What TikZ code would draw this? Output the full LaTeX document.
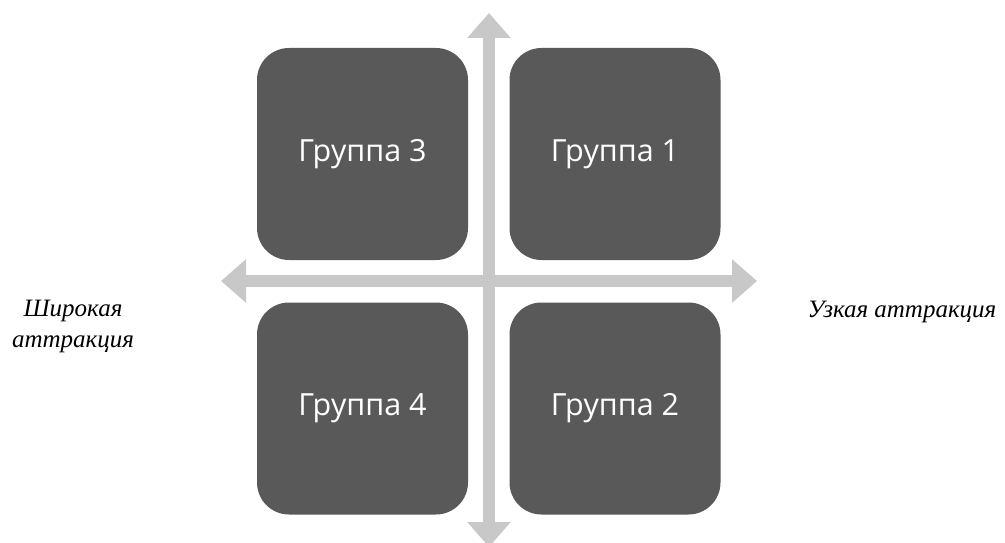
\documentclass[tikz,border=0pt]{standalone}
\usepackage{fontspec}
\setmainfont{Liberation Serif}
\newfontfamily\boxfont{Open Sans}
\usetikzlibrary{arrows.meta}
\definecolor{boxgray}{HTML}{595959}
\definecolor{axisgray}{HTML}{C8C8C8}
\begin{document}
\begin{tikzpicture}[x=1pt,y=-1pt,
  grp/.style={fill=boxgray, draw=none, rounded corners=32pt, minimum width=211pt, minimum height=212pt, inner sep=0pt, text=white, font=\boxfont\fontsize{30.5}{36}\selectfont},
  axis/.style={draw=axisgray, line width=12pt, {Triangle[width=42pt,length=25pt]}-{Triangle[width=42pt,length=25pt]}},
  lab/.style={font=\itshape\fontsize{25}{31}\selectfont, text=black, align=center, inner sep=0pt}]
\useasboundingbox (0,0) rectangle (1005,543);
\coordinate (top) at (489,13);
\coordinate (bot) at (489,547);
\coordinate (lft) at (221,281);
\coordinate (rgt) at (757,281);
\draw[axis] (bot) -- (top);
\draw[axis] (lft) -- (rgt);
\node[grp] (g3) at (362.5,154) {Группа 3};
\node[grp] (g1) at (615,154) {Группа 1};
\node[grp] (g4) at (362.5,408.5) {Группа 4};
\node[grp] (g2) at (615,408.5) {Группа 2};
\node[lab] (wide) at (73,326) {Широкая\\аттракция};
\node[lab] (narrow) at (902,312) {Узкая аттракция};
\end{tikzpicture}
\end{document}
